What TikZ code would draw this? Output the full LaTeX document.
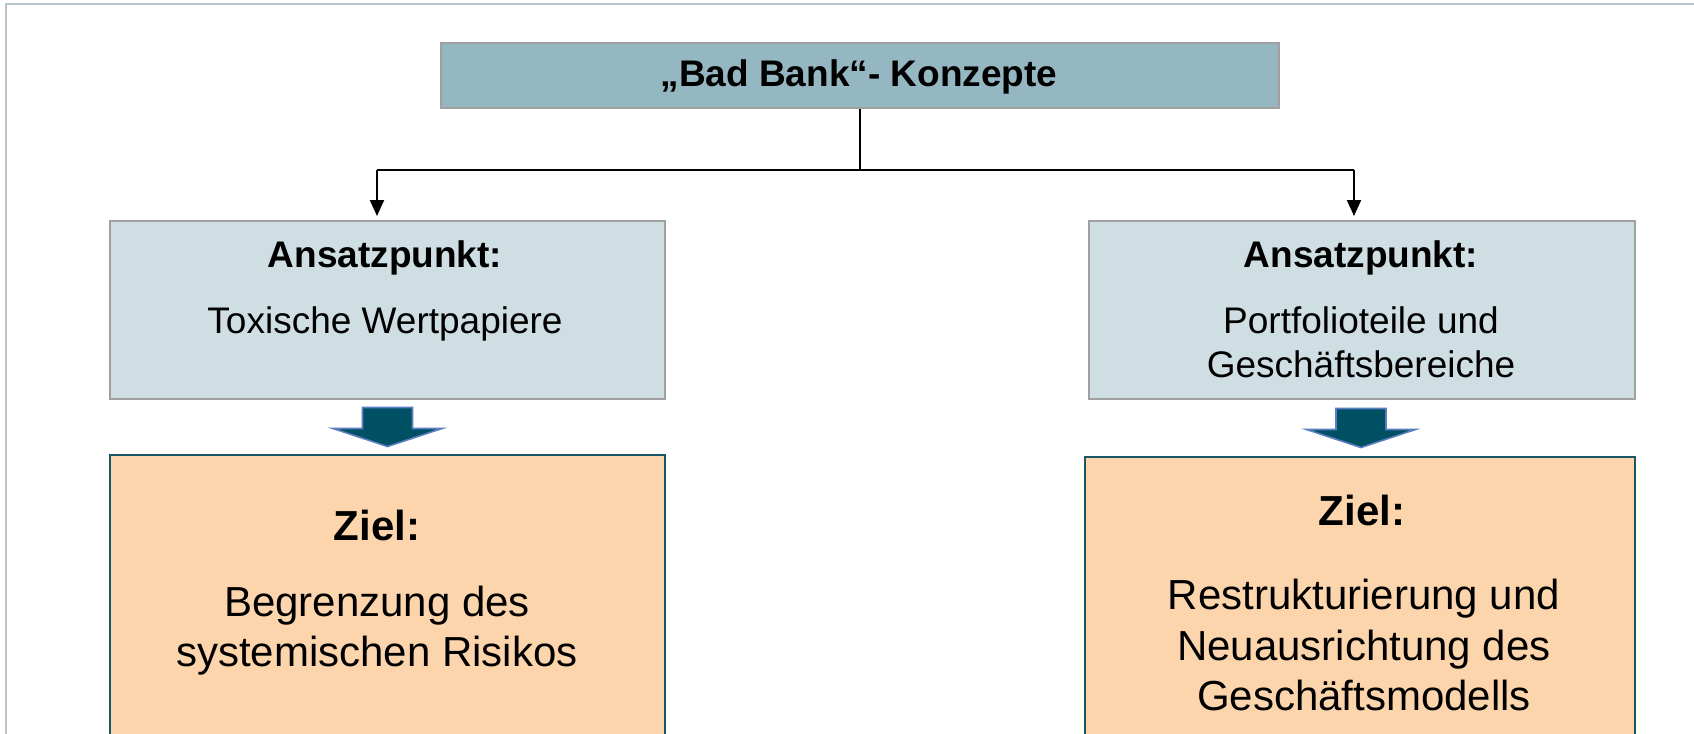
\documentclass[tikz,border=0pt]{standalone}
\usepackage{fontspec}
\setmainfont{Liberation Sans}
\usetikzlibrary{arrows.meta,calc}
\definecolor{framecol}{HTML}{B8C6CB}
\definecolor{topfill}{HTML}{95B7C1}
\definecolor{lightfill}{HTML}{CFDEE3}
\definecolor{boxgray}{HTML}{A0A0A0}
\definecolor{orangefill}{HTML}{FDD5AC}
\definecolor{tealline}{HTML}{1A5566}
\definecolor{arrowfill}{HTML}{005064}
\definecolor{arrowedge}{HTML}{5B7EC2}
\tikzset{
  topbox/.style={draw=boxgray, fill=topfill, line width=1pt, inner sep=0pt, anchor=north west},
  lightbox/.style={draw=boxgray, fill=lightfill, line width=1pt, inner sep=0pt, anchor=north west},
  goalbox/.style={draw=tealline, fill=orangefill, line width=1pt, inner sep=0pt, anchor=north west},
  smalltxt/.style={anchor=base, inner sep=0pt, font=\fontsize{18.5pt}{22pt}\selectfont},
  smallbold/.style={smalltxt, font=\fontsize{18.5pt}{22pt}\selectfont\bfseries},
  bigtxt/.style={anchor=base, inner sep=0pt, font=\fontsize{21pt}{25pt}\selectfont},
  bigbold/.style={bigtxt, font=\fontsize{21pt}{25pt}\selectfont\bfseries},
  conn/.style={draw=black, line width=1pt},
  arr/.style={-{Triangle[width=7pt,length=8pt]}, shorten >=2pt},
  blockarrow/.style={fill=arrowfill, draw=arrowedge, line width=0.8pt, line join=miter}
}
\begin{document}
\begin{tikzpicture}[x=0.5pt,y=-0.5pt]
\useasboundingbox (0,0) rectangle (1694,734);
\clip (0,0) rectangle (1694,734);
\fill[white] (0,0) rectangle (1694,734);
\draw[framecol, line width=1.2pt] (6,760) -- (6,4) -- (1720,4);

% boxes
\node[topbox, minimum width=419pt, minimum height=32.5pt] (top) at (440,42) {};
\node[lightbox, minimum width=277.5pt, minimum height=89pt] (la) at (109,220) {};
\node[lightbox, minimum width=273pt, minimum height=89pt] (ra) at (1088,220) {};
\node[goalbox, minimum width=277.5pt, minimum height=173pt] (lo) at (109,454) {};
\node[goalbox, minimum width=275pt, minimum height=173pt] (ro) at (1084,456) {};

% texts
\node[smallbold] (toptext) at (859,86.7) {„Bad Bank“- Konzepte};
\node[smallbold] (latitle) at (385,267) {Ansatzpunkt:};
\node[smalltxt] (labody) at (385,333.5) {Toxische Wertpapiere};
\node[smallbold] (ratitle) at (1361,267) {Ansatzpunkt:};
\node[smalltxt] (rabodya) at (1361,333) {Portfolioteile und};
\node[smalltxt] (rabodyb) at (1361,377) {Geschäftsbereiche};
\node[bigbold] (lotitle) at (377,540.7) {Ziel:};
\node[bigtxt] (lobodya) at (377,616.7) {Begrenzung des};
\node[bigtxt] (lobodyb) at (377,666.7) {systemischen Risikos};
\node[bigbold] (rotitle) at (1362,525) {Ziel:};
\node[bigtxt] (robodya) at (1364,609.3) {Restrukturierung und};
\node[bigtxt] (robodyb) at (1364,660) {Neuausrichtung des};
\node[bigtxt] (robodyc) at (1364,710) {Geschäftsmodells};

% connectors
\coordinate (jl) at (377,170);
\coordinate (jr) at (1354,170);
\draw[conn] (top.south) -- (top.south |- jl);
\draw[conn] (jl) -- (jr);
\draw[conn, arr] (jl) -- (jl |- la.north);
\draw[conn, arr] (jr) -- (jr |- ra.north);

% block arrows
\coordinate (ml) at ($(la.south)!0.5!(lo.north)$);
\coordinate (mr) at ($(ra.south)!0.5!(ro.north)$);
\foreach \m in {ml,mr}{
  \draw[blockarrow] (\m) ++(0,19.5) -- ++(-54.5,-18) -- ++(29.5,0) -- ++(0,-21)
     -- ++(50,0) -- ++(0,21) -- ++(29.5,0) -- cycle;
}
\end{tikzpicture}
\end{document}
